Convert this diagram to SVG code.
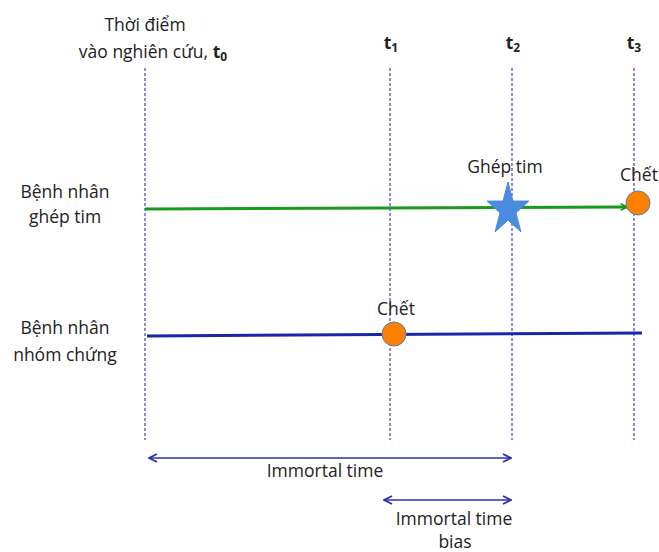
<svg xmlns="http://www.w3.org/2000/svg" width="659" height="552" viewBox="0 0 659 552">
<defs>
<style>
text{font-family:"Open Sans","Liberation Sans",sans-serif;font-size:17.5px;fill:#222;text-anchor:middle}
.b{font-weight:bold}
.vl{stroke:#3a44c8;stroke-width:1.2;stroke-dasharray:3,2;fill:none}
.ar{stroke:#2a2fb0;stroke-width:1.6;fill:none}
.dot{fill:#ff7f00;stroke:#5b7fa8;stroke-width:1}
</style>
<marker id="ah" viewBox="0 0 10 10" refX="9" refY="5" markerWidth="10" markerHeight="10" orient="auto-start-reverse" markerUnits="userSpaceOnUse">
<path d="M1,1 L9,5 L1,9" fill="none" stroke="#2a2fb0" stroke-width="1.8"/>
</marker>
<marker id="ahg" viewBox="0 0 10 10" refX="9" refY="5" markerWidth="8" markerHeight="8" orient="auto" markerUnits="userSpaceOnUse">
<path d="M1,1 L9,5 L1,9" fill="none" stroke="#1a9a1a" stroke-width="2"/>
</marker>
</defs>
<g id="guides">
<line class="vl" x1="145" y1="68" x2="145" y2="440"/>
<line class="vl" x1="390" y1="68" x2="390" y2="440"/>
<line class="vl" x1="512" y1="68" x2="512" y2="440"/>
<line class="vl" x1="634" y1="68" x2="634" y2="440"/>
</g>
<g id="labels">
<text x="145" y="31">Thời điểm</text>
<text x="153" y="58">vào nghiên cứu, <tspan class="b">t</tspan><tspan class="b" font-size="12" dy="3">0</tspan></text>
<text x="391" y="49" class="b">t<tspan font-size="12" dy="3">1</tspan></text>
<text x="513" y="49" class="b">t<tspan font-size="12" dy="3">2</tspan></text>
<text x="634" y="49" class="b">t<tspan font-size="12" dy="3">3</tspan></text>
<text x="65" y="198">Bệnh nhân</text>
<text x="65" y="223">ghép tim</text>
<text x="65" y="334">Bệnh nhân</text>
<text x="65" y="361">nhóm chứng</text>
</g>
<g id="connectors">
<line x1="145" y1="209" x2="627" y2="207" stroke="#1a9a1a" stroke-width="3" marker-end="url(#ahg)"/>
<line x1="147" y1="336" x2="642" y2="333" stroke="#1a25a8" stroke-width="3"/>
<line class="ar" x1="149" y1="458" x2="511" y2="458" marker-start="url(#ah)" marker-end="url(#ah)"/>
<line class="ar" x1="384" y1="500" x2="511" y2="500" marker-start="url(#ah)" marker-end="url(#ah)"/>
</g>
<g id="transplant">
<polygon points="508,182 512.95,201.07 528.92,201.07 515.99,212.86 520.94,231.93 508,220.14 495.06,231.93 500.01,212.86 487.08,201.07 503.05,201.07" fill="#4a8be0" stroke="#4a8be0" stroke-width="1" stroke-linejoin="round"/>
<text x="505" y="173">Ghép tim</text>
</g>
<g id="death-transplant">
<circle class="dot" cx="638" cy="203" r="12"/>
<text x="639" y="181">Chết</text>
</g>
<g id="death-control">
<circle class="dot" cx="394" cy="334" r="12"/>
<text x="396" y="315">Chết</text>
</g>
<g id="arrow-labels">
<text x="325" y="477">Immortal time</text>
<text x="454" y="525">Immortal time</text>
<text x="455" y="548">bias</text>
</g>
</svg>
